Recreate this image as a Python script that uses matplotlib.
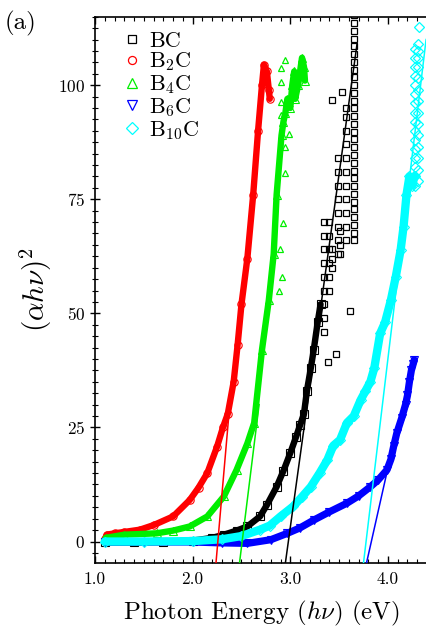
import matplotlib
matplotlib.use("Agg")
import matplotlib.pyplot as plt
from matplotlib.lines import Line2D
from matplotlib.ticker import MultipleLocator, FormatStrFormatter

plt.rcParams['font.family'] = 'serif'
plt.rcParams['font.serif'] = ['cmr10', 'DejaVu Serif']
plt.rcParams['mathtext.fontset'] = 'cm'
plt.rcParams['axes.unicode_minus'] = False
plt.rcParams['axes.formatter.use_mathtext'] = True

# ---------------- data ----------------
labels = ['BC', 'B$_2$C', 'B$_4$C', 'B$_6$C', 'B$_{10}$C']
colors = ['black', '#ff0000', '#00ee00', '#0000ff', '#00ffff']
markers = ['s', 'o', '^', 'v', 'D']

bc_x = [1.10, 1.40, 1.70, 2.00, 2.20, 2.32, 2.45, 2.56, 2.69, 2.76, 2.86, 2.93,
        3.00, 3.06, 3.10, 3.14, 3.17, 3.21, 3.24, 3.28, 3.31]
bc_y = [-0.2, -0.2, -0.1, 0.2, 0.8, 1.5, 2.4, 3.3, 5.5, 8.0, 12.0, 15.5,
        19.4, 23.0, 25.5, 28.0, 33.0, 38.0, 42.0, 48.0, 52.0]
# scattered / columnar BC points at high energy
bc_sx = ([3.35] * 9 + [3.40] * 6 + [3.43] * 3 + [3.49] * 8 + [3.51] * 3 + [3.57] * 11
         + [3.65] * 30 + [3.43, 3.53, 3.61, 3.47, 3.39])
bc_sy = ([46, 49, 52, 55, 58, 61, 64, 67, 70]
         + [55, 58, 61, 64, 67, 70]
         + [60, 62, 64]
         + [63, 66, 69, 72, 75, 78, 81, 84]
         + [63, 65, 68]
         + [66, 69, 72, 75, 78, 81, 84, 87, 90, 93, 95]
         + [66.0, 67.7, 69.4, 71.1, 72.8, 74.5, 76.2, 77.9, 79.6, 81.3, 83.0, 84.7,
            86.4, 88.1, 89.8, 91.5, 93.2, 94.9, 96.6, 98.3, 100.0, 101.7, 103.4,
            105.1, 106.8, 108.5, 110.2, 111.9, 113.6, 115.3]
         + [96.7, 98.5, 50.6, 41.1, 39.3])

b2c_x = [1.10, 1.12, 1.20, 1.30, 1.46, 1.60, 1.80, 1.97, 2.06, 2.15, 2.25, 2.31,
         2.36, 2.42, 2.46, 2.50, 2.56, 2.62, 2.67, 2.71, 2.73, 2.76, 2.78, 2.79]
b2c_y = [0.5, 1.5, 1.8, 2.1, 2.6, 3.6, 5.5, 9.1, 11.8, 15.0, 20.8, 25.0,
         28.0, 35.0, 43.0, 52.0, 62.0, 76.0, 90.0, 100.0, 104.5, 103.0, 99.0, 97.0]

b4c_x = [1.11, 1.30, 1.63, 1.80, 1.97, 2.15, 2.32, 2.45, 2.56, 2.63, 2.71, 2.78,
         2.83, 2.86, 2.91, 2.93, 2.95, 2.97, 3.00, 3.02, 3.04, 3.05, 3.08, 3.10,
         3.12, 3.14, 3.15]
b4c_y = [0.8, 1.5, 1.8, 2.4, 3.3, 5.5, 9.9, 15.7, 21.5, 26.0, 42.0, 52.9,
         63.0, 76.0, 89.0, 92.0, 94.0, 97.0, 95.0, 100.0, 103.0, 97.0, 100.0, 103.0,
         106.0, 104.0, 101.0]
b4c_sx = [2.95, 2.90, 2.90, 2.90, 2.90, 2.99, 2.95, 2.95, 2.93, 2.89, 2.92, 2.88]
b4c_sy = [105.5, 103.7, 100.7, 96.3, 93.4, 89.4, 86.5, 80.7, 69.7, 64.0, 58.0, 55.0]

b6c_x = [1.10, 1.50, 2.00, 2.30, 2.56, 2.80, 2.97, 3.10, 3.24, 3.40, 3.58, 3.70, 3.82,
         3.90, 3.99, 4.03, 4.06, 4.09, 4.14, 4.18, 4.20, 4.22, 4.24, 4.26, 4.27]
b6c_y = [-0.1, -0.1, -0.1, -0.3, -0.4, 0.4, 1.8, 3.0, 4.7, 6.5, 8.4, 10.0, 12.0,
         13.5, 15.7, 18.0, 21.0, 23.7, 27.0, 30.0, 32.0, 35.0, 37.5, 39.0, 39.8]

b10c_x = [1.10, 1.50, 2.00, 2.30, 2.50, 2.69, 2.79, 2.90, 3.03, 3.12, 3.21, 3.30,
          3.38, 3.44, 3.51, 3.58, 3.65, 3.72, 3.77, 3.82, 3.86, 3.92, 3.97, 4.03,
          4.08, 4.13, 4.16, 4.19, 4.22, 4.25, 4.27]
b10c_y = [0.0, 0.0, 0.1, 0.5, 1.2, 2.6, 3.5, 5.5, 7.7, 9.8, 12.0, 15.0,
          17.9, 21.0, 22.3, 26.0, 27.5, 31.0, 33.0, 35.0, 38.0, 45.6, 48.0, 52.9,
          58.0, 63.9, 69.0, 76.0, 80.0, 78.0, 80.0]
b10c_sx = [4.28] * 16 + [4.305] * 14 + [4.32]
b10c_sy = ([78, 80, 82, 84, 86, 88, 90, 92, 94, 96, 98, 100, 102, 104, 106, 108]
           + [79.0, 81.5, 84.0, 86.5, 89.0, 91.5, 94.0, 96.5, 99.0, 101.5, 104.0,
              106.0, 107.5, 109.0]
           + [112.8])

# linear fits: band gap (x-intercept), slope, upper end of drawn fit line
fit_eg = [2.98, 2.258, 2.507, 3.83, 3.776]
fit_slope = [155.0, 246.0, 173.0, 95.0, 179.0]
fit_ytop = [109.0, 28.0, 30.0, 15.0, 110.0]

xticks = [1.0, 2.0, 3.0, 4.0]
yticks = [0, 25, 50, 75, 100]

# ---------------- plotting ----------------
fig = plt.figure(figsize=(4.27, 6.35), dpi=100)
ax = fig.add_axes([0.2225, 0.1134, 0.7775, 0.8603])
XMIN, XMAX, YMIN, YMAX = 1.0, 4.4, -4.7, 115.0

main = [(bc_x, bc_y), (b2c_x, b2c_y), (b4c_x, b4c_y), (b6c_x, b6c_y), (b10c_x, b10c_y)]
scat = {0: (bc_sx, bc_sy), 2: (b4c_sx, b4c_sy), 4: (b10c_sx, b10c_sy)}
msize = [4.3, 4.3, 5.0, 5.0, 4.6]
bandw = [4.6, 4.6, 4.6, 5.2, 6.0]

for i, (xs, ys) in enumerate(main):
    ax.plot(xs, ys, '-', color=colors[i], lw=bandw[i], solid_capstyle='round',
            solid_joinstyle='round', zorder=2 + i)
    ax.plot(xs, ys, linestyle='none', marker=markers[i], ms=msize[i] + 1, mfc='none',
            mec=colors[i], mew=0.8, zorder=2 + i)
    if i in scat:
        sx, sy = scat[i]
        ax.plot(sx, sy, linestyle='none', marker=markers[i], ms=msize[i], mfc='none',
                mec=colors[i], mew=0.9, zorder=2 + i)

for i in range(5):
    x0 = fit_eg[i] + YMIN / fit_slope[i]
    x1 = fit_eg[i] + fit_ytop[i] / fit_slope[i]
    ax.plot([x0, x1], [YMIN, fit_ytop[i]], '-', color=colors[i], lw=1.1, zorder=10)

ax.set_xlim(XMIN, XMAX)
ax.set_ylim(YMIN, YMAX)
ax.set_xticks(xticks)
ax.set_yticks(yticks)
ax.xaxis.set_major_formatter(FormatStrFormatter('%.1f'))
ax.xaxis.set_minor_locator(MultipleLocator(0.1))
ax.yaxis.set_minor_locator(MultipleLocator(2.5))
ax.tick_params(axis='x', which='both', direction='in', top=True, bottom=True,
               labelsize=12.5, pad=6)
ax.tick_params(axis='x', which='major', length=5, width=1.0)
ax.tick_params(axis='x', which='minor', length=3, width=0.8)
ax.tick_params(axis='y', which='both', direction='inout', left=True, right=False,
               labelsize=12.5)
ax.tick_params(axis='y', which='major', length=7, width=1.0)
ax.tick_params(axis='y', which='minor', length=4, width=0.8)
ax.spines['right'].set_visible(False)
for s in ['left', 'bottom', 'top']:
    ax.spines[s].set_linewidth(1.2)

ax.set_xlabel(r'Photon Energy ($h\nu$) (eV)', fontsize=18, labelpad=9)
ax.set_ylabel(r'$(\alpha h\nu)^2$', fontsize=21, labelpad=3)

handles = [Line2D([], [], linestyle='none', marker=markers[i], ms=msize[i] + 1.5,
                  mfc='none', mec=colors[i], mew=0.9) for i in range(5)]
ax.legend(handles, labels, loc='upper left', bbox_to_anchor=(0.05, 0.99),
          frameon=False, fontsize=16, handlelength=1.0, handletextpad=0.3,
          labelspacing=0.0, borderaxespad=0.0)

fig.text(0.012, 0.953, '(a)', fontsize=18)

fig.savefig('out.png', dpi=100)
